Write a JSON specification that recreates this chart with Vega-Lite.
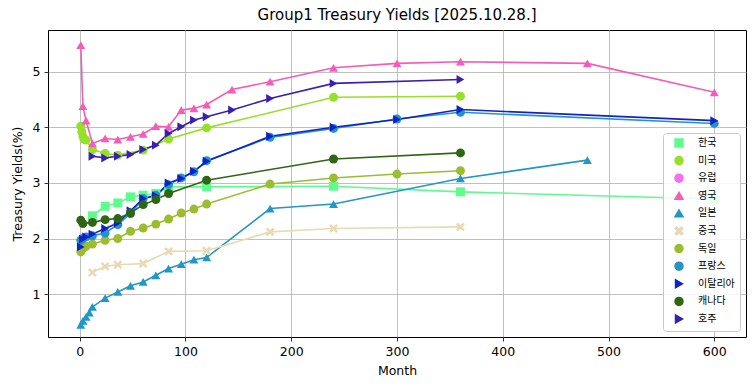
{
  "$schema": "https://vega.github.io/schema/vega-lite/v6.json",
  "width": 698,
  "height": 307,
  "autosize": {"type": "none"},
  "padding": {"left": 48, "top": 30, "right": 9, "bottom": 54},
  "background": "white",
  "title": {"text": "Group1 Treasury Yields [2025.10.28.]", "font": "DejaVu Sans", "fontSize": 15, "fontWeight": "normal", "color": "black", "offset": 7},
  "config": {
    "view": {"stroke": "black", "strokeWidth": 1},
    "axis": {"domain": false, "grid": true, "gridColor": "#b0b0b0", "gridWidth": 0.8, "tickColor": "black", "tickSize": 4, "tickWidth": 0.8, "labelFont": "DejaVu Sans", "labelFontSize": 12.5, "labelColor": "black", "labelPadding": 4, "titleFont": "DejaVu Sans", "titleFontSize": 12.5, "titleFontWeight": "normal", "titleColor": "black"}
  },
  "data": {"values": [
    {"c": "한국", "m": 12, "y": 2.41}, {"c": "한국", "m": 24, "y": 2.58}, {"c": "한국", "m": 36, "y": 2.64}, {"c": "한국", "m": 48, "y": 2.75}, {"c": "한국", "m": 60, "y": 2.78}, {"c": "한국", "m": 72, "y": 2.81}, {"c": "한국", "m": 84, "y": 2.93}, {"c": "한국", "m": 120, "y": 2.93}, {"c": "한국", "m": 240, "y": 2.94}, {"c": "한국", "m": 360, "y": 2.84}, {"c": "한국", "m": 600, "y": 2.71},
    {"c": "미국", "m": 1, "y": 4.02}, {"c": "미국", "m": 2, "y": 3.92}, {"c": "미국", "m": 3, "y": 3.84}, {"c": "미국", "m": 4, "y": 3.79}, {"c": "미국", "m": 6, "y": 3.77}, {"c": "미국", "m": 12, "y": 3.60}, {"c": "미국", "m": 24, "y": 3.53}, {"c": "미국", "m": 36, "y": 3.50}, {"c": "미국", "m": 60, "y": 3.59}, {"c": "미국", "m": 84, "y": 3.79}, {"c": "미국", "m": 120, "y": 3.99}, {"c": "미국", "m": 240, "y": 4.54}, {"c": "미국", "m": 360, "y": 4.56},
    {"c": "영국", "m": 1, "y": 5.48}, {"c": "영국", "m": 3, "y": 4.38}, {"c": "영국", "m": 6, "y": 4.12}, {"c": "영국", "m": 12, "y": 3.71}, {"c": "영국", "m": 24, "y": 3.80}, {"c": "영국", "m": 36, "y": 3.78}, {"c": "영국", "m": 48, "y": 3.83}, {"c": "영국", "m": 60, "y": 3.88}, {"c": "영국", "m": 72, "y": 4.02}, {"c": "영국", "m": 84, "y": 4.01}, {"c": "영국", "m": 96, "y": 4.31}, {"c": "영국", "m": 108, "y": 4.34}, {"c": "영국", "m": 120, "y": 4.41}, {"c": "영국", "m": 144, "y": 4.68}, {"c": "영국", "m": 180, "y": 4.82}, {"c": "영국", "m": 240, "y": 5.07}, {"c": "영국", "m": 300, "y": 5.15}, {"c": "영국", "m": 360, "y": 5.18}, {"c": "영국", "m": 480, "y": 5.15}, {"c": "영국", "m": 600, "y": 4.63},
    {"c": "일본", "m": 1, "y": 0.45}, {"c": "일본", "m": 3, "y": 0.52}, {"c": "일본", "m": 6, "y": 0.59}, {"c": "일본", "m": 9, "y": 0.67}, {"c": "일본", "m": 12, "y": 0.77}, {"c": "일본", "m": 24, "y": 0.93}, {"c": "일본", "m": 36, "y": 1.04}, {"c": "일본", "m": 48, "y": 1.15}, {"c": "일본", "m": 60, "y": 1.22}, {"c": "일본", "m": 72, "y": 1.34}, {"c": "일본", "m": 84, "y": 1.46}, {"c": "일본", "m": 96, "y": 1.54}, {"c": "일본", "m": 108, "y": 1.62}, {"c": "일본", "m": 120, "y": 1.66}, {"c": "일본", "m": 180, "y": 2.54}, {"c": "일본", "m": 240, "y": 2.62}, {"c": "일본", "m": 360, "y": 3.08}, {"c": "일본", "m": 480, "y": 3.41},
    {"c": "중국", "m": 12, "y": 1.39}, {"c": "중국", "m": 24, "y": 1.50}, {"c": "중국", "m": 36, "y": 1.53}, {"c": "중국", "m": 60, "y": 1.55}, {"c": "중국", "m": 84, "y": 1.77}, {"c": "중국", "m": 120, "y": 1.78}, {"c": "중국", "m": 180, "y": 2.12}, {"c": "중국", "m": 240, "y": 2.18}, {"c": "중국", "m": 360, "y": 2.21},
    {"c": "독일", "m": 1, "y": 1.76}, {"c": "독일", "m": 3, "y": 1.82}, {"c": "독일", "m": 6, "y": 1.86}, {"c": "독일", "m": 12, "y": 1.90}, {"c": "독일", "m": 24, "y": 1.97}, {"c": "독일", "m": 36, "y": 2.00}, {"c": "독일", "m": 48, "y": 2.13}, {"c": "독일", "m": 60, "y": 2.19}, {"c": "독일", "m": 72, "y": 2.26}, {"c": "독일", "m": 84, "y": 2.35}, {"c": "독일", "m": 96, "y": 2.46}, {"c": "독일", "m": 108, "y": 2.53}, {"c": "독일", "m": 120, "y": 2.62}, {"c": "독일", "m": 180, "y": 2.98}, {"c": "독일", "m": 240, "y": 3.09}, {"c": "독일", "m": 300, "y": 3.16}, {"c": "독일", "m": 360, "y": 3.22},
    {"c": "프랑스", "m": 1, "y": 1.97}, {"c": "프랑스", "m": 3, "y": 2.00}, {"c": "프랑스", "m": 6, "y": 2.03}, {"c": "프랑스", "m": 12, "y": 2.05}, {"c": "프랑스", "m": 24, "y": 2.10}, {"c": "프랑스", "m": 36, "y": 2.25}, {"c": "프랑스", "m": 48, "y": 2.45}, {"c": "프랑스", "m": 60, "y": 2.72}, {"c": "프랑스", "m": 72, "y": 2.78}, {"c": "프랑스", "m": 84, "y": 2.97}, {"c": "프랑스", "m": 96, "y": 3.09}, {"c": "프랑스", "m": 108, "y": 3.20}, {"c": "프랑스", "m": 120, "y": 3.40}, {"c": "프랑스", "m": 180, "y": 3.82}, {"c": "프랑스", "m": 240, "y": 3.98}, {"c": "프랑스", "m": 300, "y": 4.15}, {"c": "프랑스", "m": 360, "y": 4.27}, {"c": "프랑스", "m": 600, "y": 4.07},
    {"c": "이탈리아", "m": 1, "y": 1.85}, {"c": "이탈리아", "m": 3, "y": 1.99}, {"c": "이탈리아", "m": 6, "y": 2.03}, {"c": "이탈리아", "m": 12, "y": 2.08}, {"c": "이탈리아", "m": 24, "y": 2.18}, {"c": "이탈리아", "m": 36, "y": 2.28}, {"c": "이탈리아", "m": 48, "y": 2.50}, {"c": "이탈리아", "m": 60, "y": 2.72}, {"c": "이탈리아", "m": 72, "y": 2.77}, {"c": "이탈리아", "m": 84, "y": 3.00}, {"c": "이탈리아", "m": 96, "y": 3.08}, {"c": "이탈리아", "m": 108, "y": 3.21}, {"c": "이탈리아", "m": 120, "y": 3.39}, {"c": "이탈리아", "m": 180, "y": 3.84}, {"c": "이탈리아", "m": 240, "y": 4.00}, {"c": "이탈리아", "m": 300, "y": 4.14}, {"c": "이탈리아", "m": 360, "y": 4.32}, {"c": "이탈리아", "m": 600, "y": 4.12},
    {"c": "캐나다", "m": 1, "y": 2.33}, {"c": "캐나다", "m": 3, "y": 2.27}, {"c": "캐나다", "m": 12, "y": 2.29}, {"c": "캐나다", "m": 24, "y": 2.34}, {"c": "캐나다", "m": 36, "y": 2.36}, {"c": "캐나다", "m": 48, "y": 2.46}, {"c": "캐나다", "m": 60, "y": 2.61}, {"c": "캐나다", "m": 72, "y": 2.70}, {"c": "캐나다", "m": 84, "y": 2.81}, {"c": "캐나다", "m": 120, "y": 3.05}, {"c": "캐나다", "m": 240, "y": 3.43}, {"c": "캐나다", "m": 360, "y": 3.54},
    {"c": "호주", "m": 12, "y": 3.48}, {"c": "호주", "m": 24, "y": 3.45}, {"c": "호주", "m": 36, "y": 3.48}, {"c": "호주", "m": 48, "y": 3.51}, {"c": "호주", "m": 60, "y": 3.60}, {"c": "호주", "m": 72, "y": 3.68}, {"c": "호주", "m": 84, "y": 3.89}, {"c": "호주", "m": 96, "y": 4.01}, {"c": "호주", "m": 108, "y": 4.13}, {"c": "호주", "m": 120, "y": 4.19}, {"c": "호주", "m": 144, "y": 4.31}, {"c": "호주", "m": 180, "y": 4.52}, {"c": "호주", "m": 240, "y": 4.79}, {"c": "호주", "m": 360, "y": 4.86}
  ]},
  "encoding": {
    "x": {"field": "m", "type": "quantitative", "scale": {"domain": [-30, 630], "nice": false, "zero": false}, "axis": {"title": "Month", "values": [0, 100, 200, 300, 400, 500, 600], "titlePadding": 7}},
    "y": {"field": "y", "type": "quantitative", "scale": {"domain": [0.23, 5.75], "nice": false, "zero": false}, "axis": {"title": "Treasury Yields(%)", "values": [1, 2, 3, 4, 5], "titlePadding": 8}}
  },
  "layer": [
    {"mark": {"type": "line", "strokeWidth": 1.6},
     "encoding": {"color": {
      "field": "c", "type": "nominal",
      "scale": {"domain": ["한국", "미국", "유럽", "영국", "일본", "중국", "독일", "프랑스", "이탈리아", "캐나다", "호주"],
                "range": ["#5efc8d", "#96e02a", "#f46ef2", "#f55cb9", "#2197c6", "#e8dbb3", "#9bbd2e", "#2494c5", "#0f22c8", "#2e6614", "#3a1fb0"]},
      "legend": {
        "title": null, "orient": "bottom-right", "offset": 6, "padding": 5,
        "fillColor": "rgba(255,255,255,0.85)", "strokeColor": "#c8c8c8", "cornerRadius": 3,
        "labelFont": "Noto Sans CJK KR", "labelFontSize": 10, "labelColor": "black", "labelOffset": 14,
        "symbolSize": 64, "rowPadding": 3.6, "symbolOffset": 6
      }
    }}},
    {"mark": {"type": "point", "filled": true, "opacity": 1, "size": 80},
     "encoding": {
       "color": {"field": "c", "type": "nominal", "legend": null,
         "scale": {"domain": ["한국", "미국", "유럽", "영국", "일본", "중국", "독일", "프랑스", "이탈리아", "캐나다", "호주"],
                   "range": ["#5efc8d", "#96e02a", "#f46ef2", "#f55cb9", "#2197c6", "#e8dbb3", "#9bbd2e", "#2494c5", "#0f22c8", "#2e6614", "#3a1fb0"]}},
       "shape": {"field": "c", "type": "nominal", "legend": null,
       "scale": {"domain": ["한국", "미국", "유럽", "영국", "일본", "중국", "독일", "프랑스", "이탈리아", "캐나다", "호주"],
                 "range": ["square", "circle", "circle", "triangle-up", "triangle-up", "M-1,-0.6L-0.6,-1L0,-0.4L0.6,-1L1,-0.6L0.4,0L1,0.6L0.6,1L0,0.4L-0.6,1L-1,0.6L-0.4,0Z", "circle", "circle", "triangle-right", "circle", "triangle-right"]}}}}
  ]
}
